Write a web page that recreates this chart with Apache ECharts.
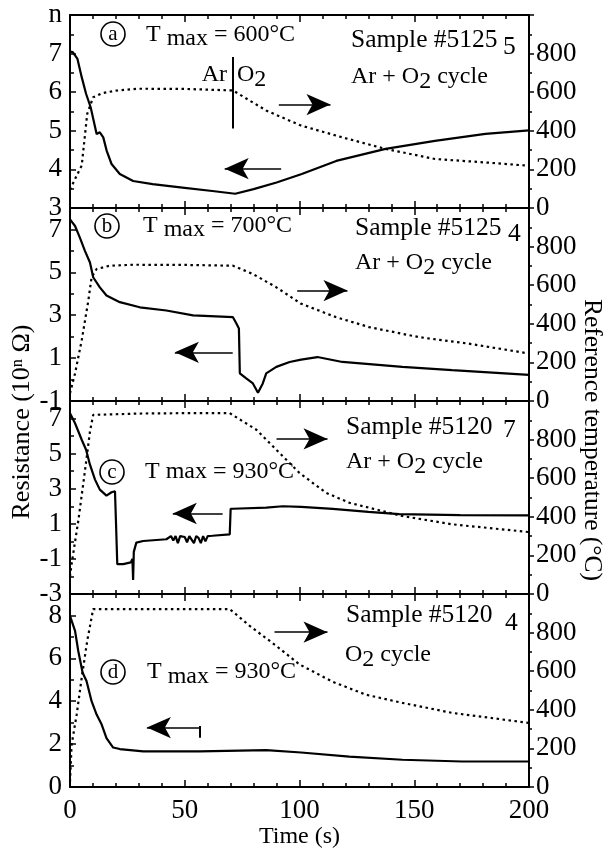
<!DOCTYPE html>
<html>
<head>
<meta charset="utf-8">
<script src="https://cdn.jsdelivr.net/npm/echarts@6/dist/echarts.min.js"></script>
<style>
  html, body { margin: 0; padding: 0; background: #fff; }
  #main { width: 606px; height: 848px; }
</style>
</head>
<body>
<div id="main"></div>
<script>
// ---- data ----
// (a) Tmax = 600 C
var resATime = [0, 1.2, 3.2, 5.1, 7, 9, 11.6, 13, 14.5, 16, 18.1, 21.7, 27.5, 36, 49, 62, 72, 80, 90, 101, 116, 137.5, 159, 181, 200];
var resAVal  = [7.05, 7.04, 6.87, 6.39, 5.96, 5.61, 4.92, 4.96, 4.83, 4.48, 4.14, 3.88, 3.70, 3.62, 3.53, 3.44, 3.37, 3.49, 3.66, 3.88, 4.22, 4.53, 4.74, 4.92, 5.01];
var tmpATime = [0, 1, 3, 5.1, 7.5, 10.1, 14, 20, 30, 50, 71, 85.5, 100.7, 118.7, 137.5, 159, 181, 200];
var tmpAVal  = [95, 120, 170, 219, 488, 574, 595, 608, 618, 617, 609, 505, 427, 366, 306, 254, 236, 219];

// (b) Tmax = 700 C
var resBTime = [0, 2.2, 4.3, 6.5, 8.7, 10.1, 13, 15.9, 21.7, 30.4, 42, 53.6, 71, 72.5, 73.6, 74, 76.8, 79.7, 81.9, 84, 85.5, 89.9, 95.7, 100.7, 107.8, 118.7, 144.8, 166.5, 200];
var resBVal  = [7.47, 7.16, 6.62, 6.00, 5.46, 4.77, 4.30, 3.92, 3.61, 3.37, 3.22, 2.99, 2.91, 2.61, 2.38, 0.29, 0.05, -0.18, -0.62, -0.18, 0.29, 0.59, 0.82, 0.93, 1.05, 0.82, 0.59, 0.44, 0.22];
var tmpBTime = [0, 2.2, 5.1, 8, 9.4, 11.6, 17.4, 27.5, 50, 71, 79.7, 89.9, 100.7, 115.8, 130.3, 152, 173.8, 200];
var tmpBVal  = [40, 143, 314, 521, 641, 684, 701, 706, 705, 701, 658, 589, 504, 435, 383, 331, 297, 246];

// (c) Tmax = 930 C, Ar + O2
var resCTime = [0, 2.2, 5.1, 7, 8.7, 10.9, 13, 15.9, 18.1, 19.6, 20, 20.6, 23.2, 26.5, 27.2, 27.5, 27.8, 28.9, 31.9, 42, 44, 45, 46, 47, 48, 50, 51, 52, 53, 54, 55, 56, 57, 58, 59, 60, 62, 69.6, 70, 71, 85.5, 92.7, 100.7, 114.5, 130, 143.5, 170, 200];
var resCVal  = [7.30, 6.73, 5.79, 5.22, 4.37, 3.52, 2.95, 2.61, 2.80, 2.86, 1.25, -1.30, -1.30, -1.2, -1.0, -2.2, -0.6, -0.07, 0.02, 0.12, 0.3, 0.05, 0.3, -0.1, 0.3, 0.25, -0.05, 0.3, 0.1, -0.1, 0.3, 0.2, -0.1, 0.3, 0.0, 0.3, 0.32, 0.40, 1.85, 1.86, 1.92, 2.0, 1.97, 1.85, 1.68, 1.55, 1.50, 1.48];
var tmpCTime = [0, 0.7, 3.6, 6.5, 8.7, 10.1, 30, 50, 69.6, 81.2, 89.9, 100, 111.6, 121.7, 130.3, 144.8, 166.5, 200];
var tmpCVal  = [90, 155, 378, 636, 842, 928, 935, 937, 937, 851, 747, 627, 524, 473, 447, 404, 361, 321];

// (d) Tmax = 930 C, O2 only
var resDTime = [0, 0.7, 2.2, 3.6, 5.5, 7.2, 9.4, 11.6, 13.8, 15.9, 18.8, 21.7, 31.9, 56.5, 85.5, 100.7, 121.7, 144.8, 170.9, 200];
var resDVal  = [7.98, 7.91, 7.28, 6.34, 5.33, 4.94, 4.0, 3.38, 2.91, 2.28, 1.84, 1.77, 1.66, 1.66, 1.72, 1.61, 1.42, 1.27, 1.19, 1.19];
var tmpDTime = [0, 0.7, 2.9, 5.1, 7.5, 10.1, 40, 69.6, 78.3, 89.9, 100, 114.5, 129, 144.8, 166.5, 200];
var tmpDVal  = [28, 219, 375, 566, 757, 922, 922, 922, 835, 731, 635, 545, 478, 436, 384, 332];

// left (resistance exponent) axis ranges per panel
var leftMin  = [3, -1, -3, 0];
var leftMax  = [8, 8, 8, 9];
var leftStep = [1, 2, 2, 2];
var timeTicks = [0, 50, 100, 150, 200];
var tempTicks = [0, 200, 400, 600, 800];

function pairs(t, v) {
  return t.map(function (x, i) { return [x, v[i]]; });
}

var FONT = '"Liberation Serif", "Times New Roman", serif';
var chart = echarts.init(document.getElementById('main'));

var tops = [15, 208, 401, 594];
var H = 193;

var resData = [pairs(resATime, resAVal), pairs(resBTime, resBVal), pairs(resCTime, resCVal), pairs(resDTime, resDVal)];
var tmpData = [pairs(tmpATime, tmpAVal), pairs(tmpBTime, tmpBVal), pairs(tmpCTime, tmpCVal), pairs(tmpDTime, tmpDVal)];

// arrows (time, resistance) per panel
var arrows = [
  [[[91, 5.68], [113.5, 5.68]], [[92, 4.02], [67.4, 4.02]]],
  [[[99, 4.15], [120.9, 4.15]], [[70.9, 1.27], [45.7, 1.27]]],
  [[[90, 5.84], [112.2, 5.84]], [[66.5, 1.59], [44.8, 1.59]]],
  [[[89.1, 7.22], [112.2, 7.22]], [[56.5, 2.77], [33.5, 2.77]]]
];
// plain strokes: Ar|O2 divider in (a), end bar in (d)
var strokes = [
  [[[70.9, 6.91], [70.9, 5.06]]],
  [],
  [],
  [[[56.5, 2.84], [56.5, 2.30]]]
];

var grids = [], xAxes = [], yAxes = [], series = [];
for (var i = 0; i < 4; i++) {
  grids.push({ left: 70, right: 77, top: tops[i], height: H, outerBoundsMode: 'none' });
  var last = i === 3;
  // bottom time axis
  xAxes.push({
    type: 'value', gridIndex: i, position: 'bottom', min: 0, max: 200, interval: 50,
    axisLine: { onZero: false, lineStyle: { color: '#000', width: 2 } },
    axisTick: { inside: true, length: 7, lineStyle: { color: '#000', width: 1.5 } },
    minorTick: { show: true, splitNumber: 5, length: 4, lineStyle: { color: '#000', width: 1.5 } },
    splitLine: { show: false },
    axisLabel: {
      show: last, margin: 10, color: '#000', fontSize: 27, fontFamily: FONT,
      formatter: function (v) { return timeTicks.indexOf(v) >= 0 ? String(v) : ''; }
    },
    name: last ? 'Time (s)' : '', nameLocation: 'middle', nameGap: 37,
    nameTextStyle: { color: '#000', fontSize: 24, fontFamily: FONT }
  });
  // top frame axis
  xAxes.push({
    type: 'value', gridIndex: i, position: 'top', min: 0, max: 200, interval: 50,
    axisLine: { onZero: false, lineStyle: { color: '#000', width: 2 } },
    axisTick: { inside: true, length: 7, lineStyle: { color: '#000', width: 1.5 } },
    minorTick: { show: true, splitNumber: 5, length: 4, lineStyle: { color: '#000', width: 1.5 } },
    splitLine: { show: false },
    axisLabel: { show: false }
  });
  (function (k) {
    yAxes.push({
      type: 'value', gridIndex: k, position: 'left', min: leftMin[k], max: leftMax[k], interval: leftStep[k],
      axisLine: { show: true, onZero: false, lineStyle: { color: '#000', width: 2 } },
      axisTick: { show: true, inside: true, length: 6, lineStyle: { color: '#000', width: 1.5 } },
      minorTick: { show: true, splitNumber: 2, length: 4, lineStyle: { color: '#000', width: 1.5 } },
      splitLine: { show: false },
      axisLabel: {
        margin: 8, color: '#000', fontSize: 27, fontFamily: FONT,
        formatter: function (v) {
          if (k === 0 && v === 8) return 'n';
          if (v === leftMax[k]) return '';
          return String(v);
        }
      }
    });
    yAxes.push({
      type: 'value', gridIndex: k, position: 'right', min: 0, max: 1000, interval: 200,
      axisLine: { show: true, onZero: false, lineStyle: { color: '#000', width: 2 } },
      axisTick: { show: true, inside: false, length: 5, lineStyle: { color: '#000', width: 1.5 } },
      minorTick: { show: true, splitNumber: 2, length: 3, lineStyle: { color: '#000', width: 1.5 } },
      splitLine: { show: false },
      axisLabel: {
        margin: 7, color: '#000', fontSize: 27, fontFamily: FONT,
        formatter: function (v) { return tempTicks.indexOf(v) >= 0 ? String(v) : ''; }
      }
    });
  })(i);

  var ml = [];
  arrows[i].forEach(function (a) {
    ml.push([{ coord: a[0], symbol: 'none' }, { coord: a[1], symbol: 'arrow' }]);
  });
  strokes[i].forEach(function (s) {
    ml.push([{ coord: s[0], symbol: 'none', lineStyle: { width: 2 } }, { coord: s[1], symbol: 'none' }]);
  });

  series.push({
    type: 'line', name: 'R' + i, xAxisIndex: i * 2, yAxisIndex: i * 2, data: resData[i],
    showSymbol: false, symbol: 'none', lineStyle: { color: '#000', width: 2.2 }, z: 3,
    markLine: {
      silent: true, animation: false, symbol: ['none', 'arrow'], symbolSize: [16, 24],
      label: { show: false },
      lineStyle: { color: '#000', width: 1.6, type: 'solid' },
      emphasis: { disabled: true },
      data: ml
    }
  });
  series.push({
    type: 'line', name: 'T' + i, xAxisIndex: i * 2, yAxisIndex: i * 2 + 1, data: tmpData[i],
    showSymbol: false, symbol: 'none', lineStyle: { color: '#000', width: 2.2, type: [2.5, 3.5] }, z: 2
  });
}

// ---- annotation text ----
var mctx = document.createElement('canvas').getContext('2d');
function textW(s, size) { mctx.font = size + 'px ' + FONT; return mctx.measureText(s).width; }
function txt(x, y, s, size, align) {
  return {
    type: 'text', x: x, y: y, silent: true,
    style: { text: s, fontSize: size, fontFamily: FONT, fill: '#000',
      align: align || 'left', verticalAlign: 'middle',
      textAlign: align || 'left', textVerticalAlign: 'middle' }
  };
}
function run(x, y, parts, size) {
  var out = [];
  parts.forEach(function (p) {
    out.push(txt(x, y + (p.dy || 0), p.t, size));
    x += textW(p.t, size);
  });
  return out;
}
function circled(cx, cy, ch) {
  return [
    { type: 'circle', silent: true, shape: { cx: cx, cy: cy, r: 12 }, style: { fill: 'none', stroke: '#000', lineWidth: 1.6 } },
    txt(cx, cy, ch, 21, 'center')
  ];
}

var S = 24, S2 = 25.5;
var g = [];
// (a)
g = g.concat(circled(113, 34, 'a'));
g = g.concat(run(146, 35, [{ t: 'T ' }, { t: 'max', dy: 4 }, { t: ' = 600°C' }], S));
g.push(txt(227, 75, 'Ar', S, 'right'));
g = g.concat(run(237, 75, [{ t: 'O' }, { t: '2', dy: 5 }], S));
g.push(txt(351, 40, 'Sample #5125', S2));
g.push(txt(503, 47, '5', S2));
g = g.concat(run(351, 77, [{ t: 'Ar + O' }, { t: '2', dy: 5 }, { t: ' cycle' }], S));
// (b)
g = g.concat(circled(107, 226, 'b'));
g = g.concat(run(143, 226, [{ t: 'T ' }, { t: 'max', dy: 4 }, { t: ' = 700°C' }], S));
g.push(txt(355, 228, 'Sample #5125', S2));
g.push(txt(508, 234, '4', S2));
g = g.concat(run(355, 263, [{ t: 'Ar + O' }, { t: '2', dy: 5 }, { t: ' cycle' }], S));
// (c)
g = g.concat(circled(112, 472, 'c'));
g.push(txt(145, 472, 'T max = 930°C', S));
g.push(txt(346, 427, 'Sample #5120', S2));
g.push(txt(503, 430, '7', S2));
g = g.concat(run(346, 462, [{ t: 'Ar + O' }, { t: '2', dy: 5 }, { t: ' cycle' }], S));
// (d)
g = g.concat(circled(113, 672, 'd'));
g = g.concat(run(147, 672, [{ t: 'T ' }, { t: 'max', dy: 5 }, { t: ' = 930°C' }], S));
g.push(txt(346, 615, 'Sample #5120', S2));
g.push(txt(505, 623, '4', S2));
g = g.concat(run(345, 655, [{ t: 'O' }, { t: '2', dy: 5 }, { t: ' cycle' }], S));

// axis titles
var lt = txt(22, 422, 'Resistance (10ⁿ Ω)', 26, 'center');
lt.rotation = Math.PI / 2;
var rt = txt(592, 440, 'Reference temperature (°C)', 25.5, 'center');
rt.rotation = -Math.PI / 2;
g.push(lt, rt);

chart.setOption({
  animation: false,
  backgroundColor: '#fff',
  grid: grids,
  xAxis: xAxes,
  yAxis: yAxes,
  series: series,
  graphic: g
});
</script>
</body>
</html>
